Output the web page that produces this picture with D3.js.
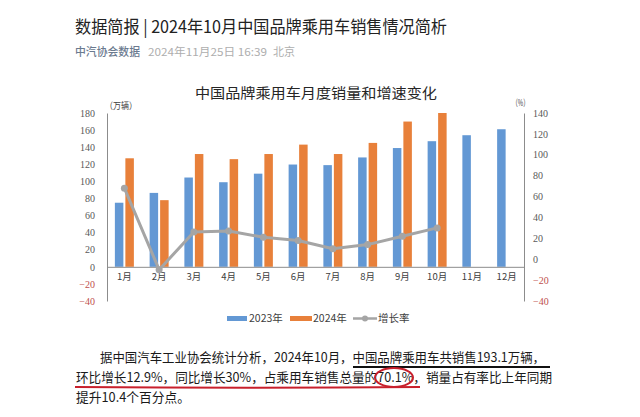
<!DOCTYPE html>
<html>
<head>
<meta charset="utf-8">
<script src="https://cdn.jsdelivr.net/npm/d3@7"></script>
<style>
html,body{margin:0;padding:0;background:#fff;}
svg{display:block;}
</style>
</head>
<body>
<svg id="c" width="640" height="417"></svg>
<script>
const months = ["1月","2月","3月","4月","5月","6月","7月","8月","9月","10月","11月","12月"];
const sales2023 = [75, 86.5, 104.5, 99, 109, 119.7, 119, 128, 139, 147, 154, 161];
const sales2024 = [127, 78, 132, 126, 132, 143, 132, 145, 170, 193.1];
const growth = [68, -10, 26, 27, 21, 18, 10, 14, 22, 30];
const leftTicks = [-40, -20, 0, 20, 40, 60, 80, 100, 120, 140, 160, 180];
const rightTicks = [-40, -20, 0, 20, 40, 60, 80, 100, 120, 140];
const seriesNames = ["2023年", "2024年", "增长率"];

const colors = {b: "#6398d4", o: "#e8803a", g: "#a5a5a5"};
const svg = d3.select("#c");
const CJK = "'Noto Sans CJK SC', 'Noto Sans', sans-serif";

// header
svg.append("text").attr("x", 75).attr("y", 33).attr("font-family", CJK)
  .attr("font-size", 17).attr("fill", "#222").attr("textLength", 372).attr("lengthAdjust", "spacingAndGlyphs")
  .text("数据简报 | 2024年10月中国品牌乘用车销售情况简析");
svg.append("text").attr("x", 75).attr("y", 56).attr("font-family", CJK)
  .attr("font-size", 11).attr("fill", "#6b7a8f").attr("font-weight", 500).attr("textLength", 65).attr("lengthAdjust", "spacingAndGlyphs")
  .text("中汽协会数据");
svg.append("text").attr("x", 148).attr("y", 56).attr("font-family", CJK)
  .attr("font-size", 11).attr("fill", "#aeaeae").attr("textLength", 119).attr("lengthAdjust", "spacingAndGlyphs")
  .text("2024年11月25日 16:39");
svg.append("text").attr("x", 273).attr("y", 56).attr("font-family", CJK)
  .attr("font-size", 11).attr("fill", "#aeaeae").attr("textLength", 22).attr("lengthAdjust", "spacingAndGlyphs")
  .text("北京");

// chart
const x = d3.scaleBand().domain(months).range([107, 524]).paddingInner(0).paddingOuter(0);
const bw = x.bandwidth();
const x1 = d3.scaleBand().domain(["2023", "2024"]).range([bw / 2 - 9.5, bw / 2 + 9.5]).paddingInner(0.19);
const yL = d3.scaleLinear().domain([-40, 180]).range([301, 113]).clamp(true);
const yR = d3.scaleLinear().domain([-40, 140]).range([301, 113]);

svg.append("text").attr("x", 195).attr("y", 98).attr("font-family", CJK)
  .attr("font-size", 14).attr("fill", "#262626").attr("textLength", 242).attr("lengthAdjust", "spacingAndGlyphs")
  .text("中国品牌乘用车月度销量和增速变化");

svg.append("text").attr("x", 105).attr("y", 109).attr("font-family", CJK)
  .attr("font-size", 9).attr("fill", "#404040").text("（万辆）").attr("textLength", 32).attr("lengthAdjust", "spacingAndGlyphs");
svg.append("text").attr("x", 512).attr("y", 106).attr("font-family", CJK)
  .attr("font-size", 9).attr("fill", "#404040").text("（%）").attr("textLength", 17).attr("lengthAdjust", "spacingAndGlyphs");

const tickColor = v => v < 0 ? "#c0504d" : "#595959";

// left axis
const gL = svg.append("g").attr("transform", "translate(107,0)")
  .call(d3.axisLeft(yL).tickValues(leftTicks).tickSize(0).tickSizeOuter(0).tickPadding(12));
gL.select(".domain").attr("stroke", "#8c8c8c");
gL.selectAll("text").attr("font-family", "'Liberation Serif', serif").attr("font-size", 10)
  .attr("fill", d => tickColor(d));

// right axis
const gR = svg.append("g").attr("transform", "translate(524,0)")
  .call(d3.axisRight(yR).tickValues(rightTicks).tickSize(0).tickSizeOuter(0).tickPadding(9));
gR.select(".domain").attr("stroke", "#8c8c8c");
gR.selectAll("text").attr("font-family", "'Liberation Serif', serif").attr("font-size", 10)
  .attr("fill", d => tickColor(d));

// bars
svg.append("g").selectAll("rect.b").data(sales2023).join("rect")
  .attr("x", (d, i) => x(months[i]) + x1("2023")).attr("width", x1.bandwidth())
  .attr("y", d => yL(d)).attr("height", d => yL(0) - yL(d)).attr("fill", colors.b);
svg.append("g").selectAll("rect.o").data(sales2024).join("rect")
  .attr("x", (d, i) => x(months[i]) + x1("2024")).attr("width", x1.bandwidth())
  .attr("y", d => yL(d)).attr("height", d => yL(0) - yL(d)).attr("fill", colors.o);

// category axis
const gB = svg.append("g").attr("transform", `translate(0,${yL(0)})`)
  .call(d3.axisBottom(x).tickSize(0).tickSizeOuter(0).tickPadding(6));
gB.select(".domain").attr("stroke", "#8c8c8c");
gB.selectAll("text").attr("font-family", CJK).attr("font-size", 9.5).attr("fill", "#404040");

// growth line
const line = d3.line().x((d, i) => x(months[i]) + bw / 2).y(d => yR(d));
svg.append("path").datum(growth).attr("d", line).attr("fill", "none")
  .attr("stroke", colors.g).attr("stroke-width", 3).attr("stroke-linejoin", "round");
svg.append("g").selectAll("circle").data(growth).join("circle")
  .attr("cx", (d, i) => x(months[i]) + bw / 2).attr("cy", d => yR(d)).attr("r", 3.5).attr("fill", colors.g);

// legend
const lg = svg.append("g");
lg.append("rect").attr("x", 227).attr("y", 316).attr("width", 20).attr("height", 5).attr("fill", colors.b);
lg.append("text").attr("x", 249).attr("y", 322).attr("font-family", CJK).attr("font-size", 10.5).attr("fill", "#404040").text(seriesNames[0]);
lg.append("rect").attr("x", 290).attr("y", 316).attr("width", 22).attr("height", 5).attr("fill", colors.o);
lg.append("text").attr("x", 313).attr("y", 322).attr("font-family", CJK).attr("font-size", 10.5).attr("fill", "#404040").text(seriesNames[1]);
lg.append("line").attr("x1", 353).attr("x2", 377).attr("y1", 318.5).attr("y2", 318.5).attr("stroke", colors.g).attr("stroke-width", 2.5);
lg.append("circle").attr("cx", 365).attr("cy", 318.5).attr("r", 3).attr("fill", colors.g);
lg.append("text").attr("x", 378).attr("y", 322).attr("font-family", CJK).attr("font-size", 10.5).attr("fill", "#404040").text(seriesNames[2]);

// body text
const body = [
  {x: 100, y: 362, w: 445, t: "据中国汽车工业协会统计分析，2024年10月，中国品牌乘用车共销售193.1万辆，"},
  {x: 76, y: 382, w: 476, t: "环比增长12.9%，同比增长30%，占乘用车销售总量的70.1%，销量占有率比上年同期"},
  {x: 76, y: 402, w: 114, t: "提升10.4个百分点。"}
];
svg.append("g").selectAll("text").data(body).join("text")
  .attr("x", d => d.x).attr("y", d => d.y).attr("font-family", CJK).attr("font-size", 13)
  .attr("fill", "#1a1a1a").attr("textLength", d => d.w).attr("lengthAdjust", "spacingAndGlyphs").text(d => d.t);

svg.append("line").attr("x1", 353).attr("x2", 550).attr("y1", 367).attr("y2", 367).attr("stroke", "#111").attr("stroke-width", 2);
svg.append("path").attr("d", "M75,387 Q250,388.5 420,387").attr("fill", "none").attr("stroke", "#c8202c").attr("stroke-width", 2);
svg.append("ellipse").attr("cx", 394).attr("cy", 377.5).attr("rx", 19).attr("ry", 9.5).attr("fill", "none").attr("stroke", "#c8202c").attr("stroke-width", 2);
</script>
</body>
</html>
